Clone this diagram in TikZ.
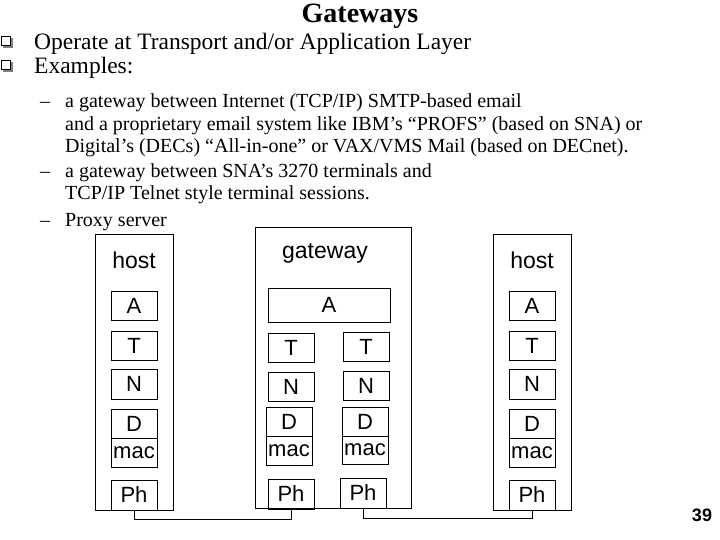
\documentclass[tikz,border=0pt]{standalone}
\usepackage{fontspec}
\setmainfont{Liberation Serif}
\newfontfamily\arial{Liberation Sans}
\begin{document}
\begin{tikzpicture}[x=1pt,y=-1pt,
  lay/.style={draw,line width=0.8pt,inner sep=0pt,font=\arial\fontsize{22}{22}\selectfont},
  big/.style={draw,line width=0.8pt},
  hdr/.style={inner sep=0pt,font=\arial\fontsize{23}{23}\selectfont},
  txt/.style={anchor=base west,inner sep=0pt,font=\fontsize{20}{20}\selectfont},
  wire/.style={line width=0.8pt}]
\useasboundingbox (0,0) rectangle (720,540);
% title and text
\node[inner sep=0pt,anchor=base,font=\bfseries\fontsize{28}{28}\selectfont] (title) at (360,23) {Gateways};
\foreach \y in {47,71}{
  \fill[gray] (3,\y-9) rectangle (13,\y+1);
  \draw[fill=white,line width=0.6pt] (1,\y-11) rectangle (10,\y-2);
}
\node[txt,font=\fontsize{23.5}{23.5}\selectfont] (t1) at (34,50) {Operate at Transport and/or Application Layer};
\node[txt,font=\fontsize{23.5}{23.5}\selectfont] (t2) at (34,74) {Examples:};
\node[txt] (d1) at (40,108) {–};
\node[txt] (l1) at (65,108) {a gateway between Internet (TCP/IP) SMTP-based email};
\node[txt] (l2) at (65,131) {and a proprietary email system like IBM’s “PROFS” (based on SNA) or};
\node[txt] (l3) at (65,153) {Digital’s (DECs) “All-in-one” or VAX/VMS Mail (based on DECnet).};
\node[txt] (d2) at (40,178) {–};
\node[txt] (l4) at (65,178) {a gateway between SNA’s 3270 terminals and};
\node[txt] (l5) at (65,200) {TCP/IP Telnet style terminal sessions.};
\node[txt] (d3) at (40,226) {–};
\node[txt] (l6) at (65,226) {Proxy server};
% hosts and gateway frames
\draw[big] (95,234) rectangle (173,510);
\draw[big] (255,227) rectangle (411,508);
\draw[big] (493,234) rectangle (571,510);
\node[hdr] (h1) at (134,260) {host};
\node[hdr] (gw) at (325,253) {gateway};
\node[hdr] (h2) at (532,260) {host};
% host layers
\foreach \cx/\p in {134/L,532/R}{
  \node[lay,minimum width=46,minimum height=29] (A\p) at (\cx,305.5) {A};
  \node[lay,minimum width=46,minimum height=29] (T\p) at (\cx,345.5) {T};
  \node[lay,minimum width=46,minimum height=30] (N\p) at (\cx,384) {N};
  \node[lay,minimum width=46,minimum height=29] (D\p) at (\cx,423.5) {D};
  \node[lay,minimum width=46,minimum height=29] (M\p) at (\cx,452.5) {mac};
  \node[lay,minimum width=46,minimum height=30] (P\p) at (\cx,495) {Ph};
}
% gateway layers
\node[lay,minimum width=122,minimum height=34] (AG) at (329,305) {A};
\node[lay,minimum width=46,minimum height=29] (TG1) at (291,347.5) {T};
\node[lay,minimum width=46,minimum height=29] (TG2) at (366,346.5) {T};
\node[lay,minimum width=46,minimum height=29] (NG1) at (291,386.5) {N};
\node[lay,minimum width=46,minimum height=29] (NG2) at (366,385.5) {N};
\node[lay,minimum width=46,minimum height=29] (DG1) at (289,421.5) {D};
\node[lay,minimum width=46,minimum height=29] (MG1) at (289,450.5) {mac};
\node[lay,minimum width=46,minimum height=29] (DG2) at (365,421.5) {D};
\node[lay,minimum width=46,minimum height=28] (MG2) at (365,450) {mac};
\node[lay,minimum width=46,minimum height=30] (PG1) at (291,494) {Ph};
\node[lay,minimum width=46,minimum height=30] (PG2) at (363,493) {Ph};
% wires
\draw[wire] (PL.south) -- ++(0,9) -| (PG1.south);
\draw[wire] (PG2.south) -- ++(0,10) -| (PR.south);
\node[inner sep=0pt,font=\arial\bfseries\fontsize{18}{18}\selectfont] (pg) at (702,515) {39};
\end{tikzpicture}
\end{document}
